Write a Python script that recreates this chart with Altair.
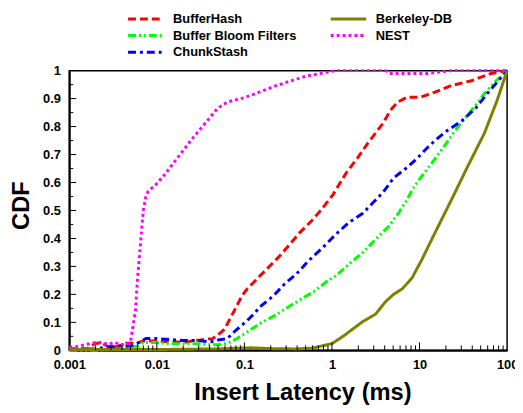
import altair as alt
import pandas as pd

FONT = "Liberation Sans"

series_order = ["BufferHash", "Buffer Bloom Filters", "ChunkStash", "Berkeley-DB", "NEST"]
series_colors = ["#ff0000", "#00ff00", "#0000ff", "#808000", "#ff00ff"]
series_dashes = [[8, 4], [8, 3, 2, 3, 2, 3], [8, 4, 3, 4], [1, 0], [3, 3]]

bufferhash_x = [0.001, 0.0012, 0.0016, 0.002, 0.0024, 0.0028, 0.0035, 0.0044, 0.0057, 0.007, 0.008,
                0.0104, 0.0142, 0.0188, 0.0226, 0.027, 0.031, 0.038, 0.043, 0.052, 0.059, 0.064,
                0.077, 0.094, 0.108, 0.139, 0.19, 0.254, 0.329, 0.426, 0.582, 0.755, 1.03, 1.45,
                1.98, 2.56, 3.79, 4.66, 5.59, 7.24, 10.2, 15, 23.3, 39.2, 65.9, 100]
bufferhash_y = [0.006, 0.006, 0.006, 0.025, 0.025, 0.013, 0.013, 0.025, 0.025, 0.033, 0.033,
                0.033, 0.03, 0.03, 0.03, 0.036, 0.036, 0.041, 0.041, 0.06, 0.075, 0.095,
                0.143, 0.196, 0.22, 0.255, 0.298, 0.338, 0.379, 0.42, 0.462, 0.503, 0.557, 0.634,
                0.69, 0.74, 0.81, 0.858, 0.887, 0.905, 0.905, 0.923, 0.947, 0.964, 0.99, 1.0]

bloom_x = [0.001, 0.002, 0.003, 0.004, 0.005, 0.006, 0.007, 0.01, 0.014, 0.02, 0.03, 0.04, 0.05,
           0.064, 0.083, 0.108, 0.151, 0.223, 0.32, 0.449, 0.614, 0.861, 1.11, 1.56, 2.25, 3.16,
           4.43, 5.73, 7.24, 8.25, 10.2, 13.9, 19.5, 27.3, 39.2, 55, 75, 100]
bloom_y = [0.0, 0.0, 0.002, 0.008, 0.013, 0.015, 0.028, 0.028, 0.024, 0.024, 0.024, 0.02, 0.02,
           0.025, 0.043, 0.066, 0.096, 0.125, 0.156, 0.184, 0.209, 0.245, 0.267, 0.308, 0.35, 0.397,
           0.443, 0.49, 0.54, 0.574, 0.616, 0.67, 0.734, 0.798, 0.858, 0.918, 0.964, 1.0]

chunk_x = [0.001, 0.002, 0.0035, 0.005, 0.006, 0.0075, 0.01, 0.015, 0.02, 0.03, 0.04, 0.045, 0.052,
           0.064, 0.077, 0.108, 0.129, 0.151, 0.217, 0.289, 0.394, 0.539, 0.796, 1.06, 1.56, 2.25,
           2.99, 3.88, 5.04, 7.43, 9.64, 12.5, 16.2, 21.0, 30.3, 44.7, 59.4, 100]
chunk_y = [0.003, 0.006, 0.015, 0.015, 0.025, 0.042, 0.042, 0.038, 0.035, 0.035, 0.03, 0.032, 0.038,
           0.042, 0.067, 0.107, 0.131, 0.156, 0.196, 0.238, 0.273, 0.32, 0.369, 0.409, 0.457, 0.49,
           0.53, 0.567, 0.616, 0.657, 0.69, 0.727, 0.759, 0.787, 0.82, 0.869, 0.918, 1.0]

berkeley_x = [0.001, 0.01, 0.05, 0.09, 0.12, 0.2, 0.4, 0.6, 1.0, 1.34, 2.25, 3.16, 4.09, 5.04, 6.37,
              8.25, 10.7, 15, 23.3, 35.4, 55, 77, 100]
berkeley_y = [0.003, 0.003, 0.005, 0.008, 0.009, 0.006, 0.005, 0.008, 0.024, 0.05, 0.103, 0.13, 0.174,
              0.2, 0.22, 0.26, 0.326, 0.42, 0.54, 0.657, 0.776, 0.894, 1.0]

nest_x = [0.001, 0.0012, 0.0015, 0.002, 0.0024, 0.0028, 0.0032, 0.0044, 0.005, 0.0057, 0.006, 0.0065,
          0.007, 0.0075, 0.008, 0.0096, 0.0124, 0.0174, 0.0244, 0.0352, 0.0493, 0.064, 0.102, 0.234,
          0.5, 1.1, 4.1, 4.5, 12.5, 23, 100]
nest_y = [0.013, 0.013, 0.02, 0.028, 0.028, 0.02, 0.028, 0.018, 0.03, 0.14, 0.25, 0.38,
          0.5, 0.55, 0.57, 0.59, 0.63, 0.69, 0.75, 0.81, 0.865, 0.888, 0.904, 0.947,
          0.98, 1.0, 1.0, 0.99, 0.99, 1.0, 1.0]

x_labels = [0.001, 0.01, 0.1, 1, 10, 100]
y_labels = [0, 0.1, 0.2, 0.3, 0.4, 0.5, 0.6, 0.7, 0.8, 0.9, 1]
x_major_ticks = [0.01, 0.1, 1, 10]
x_minor_ticks = [m * 10.0 ** e for e in range(-3, 2) for m in range(2, 10)]
y_major_ticks = [0.1, 0.2, 0.3, 0.4, 0.5, 0.6, 0.7, 0.8, 0.9]
y_minor_ticks = [0.05, 0.15, 0.25, 0.35, 0.45, 0.55, 0.65, 0.75, 0.85, 0.95]

rows = []
for name, xs, ys in [("BufferHash", bufferhash_x, bufferhash_y),
                     ("Buffer Bloom Filters", bloom_x, bloom_y),
                     ("ChunkStash", chunk_x, chunk_y),
                     ("Berkeley-DB", berkeley_x, berkeley_y),
                     ("NEST", nest_x, nest_y)]:
    for xv, yv in zip(xs, ys):
        rows.append({"series": name, "x": xv, "y": yv})
df = pd.DataFrame(rows)

W, H = 443, 283

xscale = alt.Scale(type="log", domain=[0.001, 100])
yscale = alt.Scale(domain=[0, 1])

xaxis = alt.Axis(
    values=x_labels, format="~g", ticks=False, grid=False,
    domainColor="black", domainWidth=2,
    labelFont=FONT, labelFontSize=13, labelFontWeight="bold", labelColor="black",
    labelPadding=8, labelFlush=False, labelOverlap=False,
    title="Insert Latency (ms)", titleFont=FONT, titleFontSize=24, titleFontWeight="bold",
    titleColor="black", titleX=236, titleY=50, titleBaseline="alphabetic")
yaxis = alt.Axis(
    values=y_labels, format="~g", ticks=False, grid=False,
    domainColor="black", domainWidth=2,
    labelFont=FONT, labelFontSize=13, labelFontWeight="bold", labelColor="black",
    labelPadding=9, labelFlush=False, labelOverlap=False,
    title="CDF", titleFont=FONT, titleFontSize=24, titleFontWeight="bold",
    titleColor="black", titleAngle=-90, titleBaseline="middle", titleX=-48, titleY=136)

legend = alt.Legend(
    title=None, orient="none", legendX=70, legendY=-60, columns=2,
    symbolType="M-3,0H3", symbolSize=144, symbolStrokeWidth=3,
    labelFont=FONT, labelFontSize=13, labelFontWeight="bold", labelColor="black",
    labelOffset=20, columnPadding=28, rowPadding=2, padding=0, labelLimit=300,
)

lines = alt.Chart(df).mark_line(strokeWidth=3).encode(
    x=alt.X("x:Q", scale=xscale, axis=xaxis),
    y=alt.Y("y:Q", scale=yscale, axis=yaxis),
    color=alt.Color("series:N", scale=alt.Scale(domain=series_order, range=series_colors), legend=legend),
    strokeDash=alt.StrokeDash("series:N", scale=alt.Scale(domain=series_order, range=series_dashes), legend=legend),
)

def xticks(vals, length):
    return alt.Chart(pd.DataFrame({"x": vals})).mark_rule(color="black", strokeWidth=1).encode(
        x=alt.X("x:Q", scale=xscale, axis=xaxis), y=alt.value(H), y2=alt.value(H - length))

def yticks(vals, length):
    return alt.Chart(pd.DataFrame({"y": vals})).mark_rule(color="black", strokeWidth=1).encode(
        y=alt.Y("y:Q", scale=yscale, axis=yaxis), x=alt.value(0), x2=alt.value(length))

chart = alt.layer(
    lines,
    xticks(x_minor_ticks, 5), xticks(x_major_ticks, 8),
    yticks(y_minor_ticks, 4), yticks(y_major_ticks, 7),
).properties(
    width=W, height=H, autosize="none",
    padding={"left": 62, "top": 61, "right": 8, "bottom": 58},
).configure_view(stroke="black", strokeWidth=1.5)

chart.save("out.html", embed_options={"renderer": "svg", "actions": False})
